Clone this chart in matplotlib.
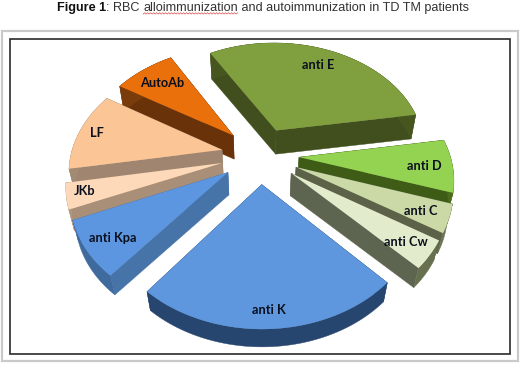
import numpy as np
import matplotlib
matplotlib.use('Agg')
import matplotlib.pyplot as plt
from matplotlib.patches import Polygon, Rectangle
from matplotlib.colors import LinearSegmentedColormap

# Slices, clockwise from the anti E edge (percent of all antibodies)
labels = ['anti E', 'anti D', 'anti C', 'anti Cw', 'anti K', 'anti Kpa', 'JKb', 'LF', 'AutoAb']
values = [30.8, 7.5, 3.9, 3.9, 23.1, 7.8, 3.6, 11.4, 7.8]

# colours: top surface (two ends of the shading), radial cut, outer rim
top_a = ['#80a03f', '#94d252', '#cbd9a6', '#e2ebcb', '#5e97de', '#5c96e0', '#fdd9b9', '#fcc595', '#ea700b']
top_b = ['#7a963e', '#8fcc4e', '#c6d49c', '#dae5bf', '#4a80c6', '#5a92da', '#fbd3af', '#f8bd88', '#e2690a']
cut_colors = ['#414f1e', '#3f5c17', '#5b6248', '#5d6450', '#2d5284', '#4673a8', '#a98f78', '#a08670', '#6a3208']
rim_colors = ['#47561f', '#4a6b1c', '#6a7350', '#66704f', '#27466f', '#3e6a9d', '#b09880', '#a38a73', '#7a3c0a']

label_xy = [(318, 65), (424, 166), (421, 211), (406, 242), (269, 310), (113, 238), (85, 191), (97, 133), (162, 83)]

# pie geometry in pixels
cx, cy = 260, 155
radius = 151
explode = 39
tilt = 0.725
persp = 0.0011
depth = 23
shrink = 0.97
start = 330


def project(X, Y, bottom=False):
    w = 1 + persp * Y
    x = cx + X / w
    y = cy - tilt * Y / w
    if bottom:
        x = cx + (x - cx) * shrink
        y = cy + (y - cy) * shrink + depth
    return np.column_stack((x, y))


def slice_outline(a0, a1):
    mid = np.radians((a0 + a1) / 2)
    ox, oy = explode * np.sin(mid), explode * np.cos(mid)
    th = np.radians(np.linspace(a0, a1, 60))
    return ox, oy, ox + radius * np.sin(th), oy + radius * np.cos(th)


fig = plt.figure(figsize=(5.2, 3.65), dpi=100)
ax = fig.add_axes([0, 0, 1, 1])
ax.set_xlim(0, 520)
ax.set_ylim(365, 0)
ax.axis('off')

# frames
ax.add_patch(Rectangle((2, 30.5), 516, 330.5, fill=False, ec='#c9c9c9', lw=1.6))
ax.add_patch(Rectangle((10, 39), 500, 315, fill=False, ec='#2a2a2a', lw=1.2))

edges = start + np.cumsum([0] + values) * 3.6
apex_y = [project(*slice_outline(edges[i], edges[i + 1])[:2])[0, 1] for i in range(len(values))]

# back slices first so the front ones cover their sides
for i in np.argsort(apex_y):
    ox, oy, ax_, ay_ = slice_outline(edges[i], edges[i + 1])
    ox, oy = np.array([ox]), np.array([oy])
    top_arc = project(ax_, ay_)
    low_arc = project(ax_, ay_, bottom=True)
    top_c = project(ox, oy)
    low_c = project(ox, oy, bottom=True)
    for k in (0, -1):
        ax.add_patch(Polygon(np.vstack((top_c, top_arc[k], low_arc[k], low_c)), fc=cut_colors[i], ec=cut_colors[i], lw=0.3))
    ax.add_patch(Polygon(np.vstack((top_arc, low_arc[::-1])), fc=rim_colors[i], ec=rim_colors[i], lw=0.3))
    shape = Polygon(np.vstack((top_c, top_arc)), fc=top_a[i], ec='none')
    ax.add_patch(shape)
    cmap = LinearSegmentedColormap.from_list('s', [top_a[i], top_b[i]])
    xs = np.vstack((top_c, top_arc))
    im = ax.imshow(np.linspace(0, 1, 64).reshape(1, -1), cmap=cmap, aspect='auto',
                   extent=(xs[:, 0].min(), xs[:, 0].max(), xs[:, 1].max(), xs[:, 1].min()))
    im.set_clip_path(shape)
ax.set_xlim(0, 520)
ax.set_ylim(365, 0)

for name, (x, y) in zip(labels, label_xy):
    ax.text(x, y, name, ha='center', va='center', fontsize=9.2, fontweight='bold',
            family='Lato', color='#0a0f1e', zorder=5)

# title, written piece by piece as in the original
title_parts = ['Figure 1', ': RBC ', 'alloimmunization', ' and autoimmunization in TD TM patients']
title_weight = ['bold', 'normal', 'normal', 'normal']
title_color = ['#111111', '#333333', '#333333', '#333333']
x = 57
boxes = []
for part, wt, col in zip(title_parts, title_weight, title_color):
    t = ax.text(x, 11, part, family='Liberation Sans', fontsize=9.1, fontweight=wt, color=col, va='baseline')
    fig.canvas.draw()
    box = t.get_window_extent().transformed(ax.transData.inverted())
    boxes.append(box)
    x = box.x1

# spell checker squiggle under the flagged word
zx = np.arange(boxes[2].x0, boxes[2].x1, 1.5)
zy = 13.4 + 0.7 * (-1.0) ** np.arange(len(zx))
ax.plot(zx, zy, color='#d9534f', lw=0.5)

fig.savefig('out.png', dpi=100)
